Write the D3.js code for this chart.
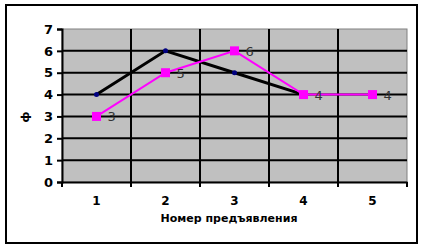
<!DOCTYPE html>
<html>
<head>
<script src="https://d3js.org/d3.v7.min.js"></script>
<style>
  body { margin: 0; background: #fff; }
  svg text { font-family: 'DejaVu Sans', sans-serif; }
</style>
</head>
<body>
<div id="chart"></div>
<script>
  // данные
  const categories = ["1", "2", "3", "4", "5"];
  const seriesBlack = [4, 6, 5, 4];
  const seriesPink = [3, 5, 6, 4, 4];
  const yTicks = [0, 1, 2, 3, 4, 5, 6, 7];

  const width = 424, height = 250;
  const margin = { top: 29, right: 17, bottom: 68, left: 62 };

  const svg = d3.select("#chart").append("svg")
      .attr("width", width).attr("height", height);

  // рамка
  svg.append("rect")
      .attr("x", 6).attr("y", 5).attr("width", 411).attr("height", 238)
      .attr("fill", "#fff").attr("stroke", "#000").attr("stroke-width", 2);

  const x = d3.scaleBand().domain(categories)
      .range([margin.left, width - margin.right]);
  const y = d3.scaleLinear().domain([0, 7])
      .range([height - margin.bottom, margin.top]);

  // фон области построения
  svg.append("rect")
      .attr("x", x.range()[0]).attr("y", y(7))
      .attr("width", x.range()[1] - x.range()[0]).attr("height", y(0) - y(7))
      .attr("fill", "#c0c0c0").attr("stroke", "#808080").attr("stroke-width", 1);

  // сетка
  svg.append("g").selectAll("line")
      .data(yTicks.filter(d => d > 0 && d < 7))
      .join("line")
      .attr("x1", x.range()[0]).attr("x2", x.range()[1])
      .attr("y1", d => y(d)).attr("y2", d => y(d))
      .attr("stroke", "#000").attr("stroke-width", 2);

  svg.append("g").selectAll("line")
      .data(categories.slice(1))
      .join("line")
      .attr("x1", d => x(d)).attr("x2", d => x(d))
      .attr("y1", y(7)).attr("y2", y(0))
      .attr("stroke", "#000").attr("stroke-width", 2);

  // оси
  const yAxis = svg.append("g")
      .attr("transform", `translate(${margin.left},0)`)
      .call(d3.axisLeft(y).tickValues(yTicks).tickFormat(d3.format("d"))
        .tickSize(5).tickPadding(4));
  yAxis.select(".domain").attr("stroke-width", 2);
  yAxis.selectAll(".tick line").attr("stroke-width", 2);
  yAxis.selectAll("text").attr("font-size", 13).attr("font-weight", "bold");

  const xAxis = svg.append("g")
      .attr("transform", `translate(0,${y(0)})`)
      .call(d3.axisBottom(x).tickSize(0).tickPadding(14));
  xAxis.select(".domain").attr("stroke-width", 2);
  xAxis.selectAll("text").attr("font-size", 12).attr("font-weight", "bold");

  // засечки на границах категорий
  svg.append("g").selectAll("line")
      .data(categories.map(d => x(d)).concat([x.range()[1]]))
      .join("line")
      .attr("x1", d => d).attr("x2", d => d)
      .attr("y1", y(0)).attr("y2", y(0) + 5)
      .attr("stroke", "#000").attr("stroke-width", 2);

  const cx = d => x(d) + x.bandwidth() / 2;

  // подписи осей
  svg.append("text")
      .attr("x", 229).attr("y", 222)
      .attr("text-anchor", "middle")
      .attr("font-size", 11).attr("font-weight", "bold")
      .text("Номер предъявления");

  svg.append("text")
      .attr("transform", "translate(29,117) rotate(-90)")
      .attr("text-anchor", "middle")
      .attr("font-size", 11).attr("font-weight", "bold")
      .text("ф");

  const line = d3.line()
      .x((d, i) => cx(categories[i]))
      .y(d => y(d));

  // чёрная серия
  svg.append("path").datum(seriesBlack)
      .attr("d", line).attr("fill", "none")
      .attr("stroke", "#000").attr("stroke-width", 3);
  svg.append("g").selectAll("circle")
      .data(seriesBlack).join("circle")
      .attr("cx", (d, i) => cx(categories[i])).attr("cy", d => y(d))
      .attr("r", 2.5).attr("fill", "#000080");

  // розовая серия
  svg.append("path").datum(seriesPink)
      .attr("d", line).attr("fill", "none")
      .attr("stroke", "#ff00ff").attr("stroke-width", 2);
  svg.append("g").selectAll("rect")
      .data(seriesPink).join("rect")
      .attr("x", (d, i) => cx(categories[i]) - 4.5).attr("y", d => y(d) - 4.5)
      .attr("width", 9).attr("height", 9)
      .attr("fill", "#ff00ff");
  svg.append("g").selectAll("text")
      .data(seriesPink).join("text")
      .attr("x", (d, i) => cx(categories[i]) + 11).attr("y", d => y(d) + 5)
      .attr("font-size", 13).attr("fill", "#333")
      .attr("font-family", "'Liberation Sans', sans-serif")
      .text(d => d);
</script>
</body>
</html>
